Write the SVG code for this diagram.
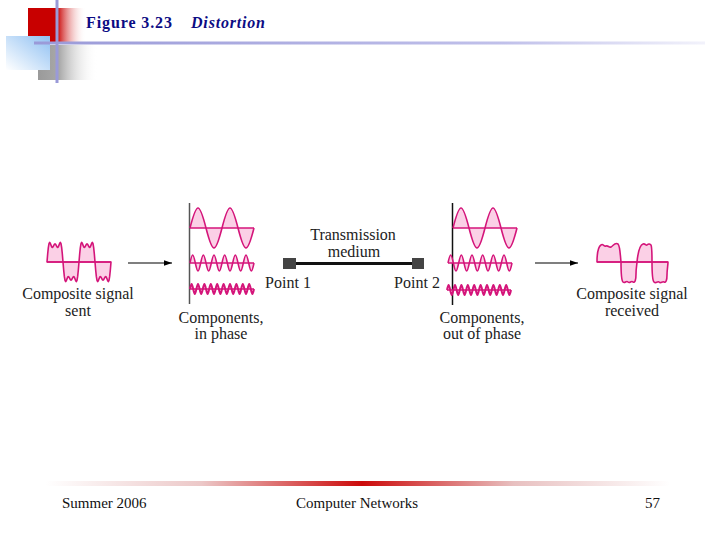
<svg xmlns="http://www.w3.org/2000/svg" width="720" height="540" viewBox="0 0 720 540">
<style>
.wave{fill:#fbd0e6;stroke:#d4157a;stroke-width:1.6;stroke-linejoin:round}
.wave2{fill:#fbd0e6;stroke:#d4157a;stroke-width:2;stroke-linejoin:round}
.axis{stroke:#d4157a;stroke-width:1.4;fill:none}
.lbl{font-family:"Liberation Serif","Times New Roman",serif;font-size:16px;fill:#222;text-anchor:middle}
.foot{font-family:"Liberation Serif","Times New Roman",serif;font-size:15px;fill:#111}
.title{font-family:"Liberation Serif","Times New Roman",serif;font-size:16px;font-weight:bold;fill:#0c0c84}
.conn{stroke:#000;stroke-width:1.2;fill:none}
</style>
<defs>
<linearGradient id="gRed" x1="0" y1="0" x2="1" y2="0"><stop offset="0" stop-color="#c80000"/><stop offset="0.5" stop-color="#c80000"/><stop offset="1" stop-color="#ffffff" stop-opacity="0"/></linearGradient>
<linearGradient id="gBlue" x1="1" y1="0" x2="0" y2="1"><stop offset="0" stop-color="#8fc0f2"/><stop offset="1" stop-color="#ffffff"/></linearGradient>
<linearGradient id="gGray" x1="0" y1="0" x2="1" y2="0"><stop offset="0" stop-color="#9a9a9a"/><stop offset="0.35" stop-color="#a8a8a8"/><stop offset="1" stop-color="#ffffff" stop-opacity="0"/></linearGradient>
<linearGradient id="gLine" gradientUnits="userSpaceOnUse" x1="34" y1="0" x2="705" y2="0"><stop offset="0" stop-color="#9a9ad8"/><stop offset="0.7" stop-color="#c0c0ea"/><stop offset="1" stop-color="#f2f2fb"/></linearGradient>
<linearGradient id="gFoot" gradientUnits="userSpaceOnUse" x1="45" y1="0" x2="670" y2="0"><stop offset="0" stop-color="#ffffff"/><stop offset="0.25" stop-color="#ecc8c8"/><stop offset="0.507" stop-color="#cc0a0a"/><stop offset="0.75" stop-color="#e8c0c0"/><stop offset="1" stop-color="#ffffff"/></linearGradient>
<marker id="arr" viewBox="0 0 10 10" refX="10" refY="5" markerWidth="8" markerHeight="8" markerUnits="userSpaceOnUse" orient="auto"><path d="M0,1.5 L10,5 L0,8.5 Z" fill="#000"/></marker>
<path id="big" d="M0,0 C6.79,-26.67 9.21,-26.67 16,0 S25.21,26.67 32,0 S41.21,-26.67 48,0 S57.21,26.67 64,0"/>
<path id="mid" d="M0,0 C2.26,-10.67 3.07,-10.67 5.33,0 S8.41,10.67 10.67,0 S13.74,-10.67 16,0 S19.07,10.67 21.33,0 S24.41,-10.67 26.67,0 S29.74,10.67 32,0 S35.07,-10.67 37.33,0 S40.41,10.67 42.67,0 S45.74,-10.67 48,0 S51.07,10.67 53.33,0 S56.41,-10.67 58.67,0 S61.74,10.67 64,0"/>
<path id="small" d="M0,0 C1.36,-6.67 1.84,-6.67 3.2,0 S5.04,6.67 6.4,0 S8.24,-6.67 9.6,0 S11.44,6.67 12.8,0 S14.64,-6.67 16,0 S17.84,6.67 19.2,0 S21.04,-6.67 22.4,0 S24.24,6.67 25.6,0 S27.44,-6.67 28.8,0 S30.64,6.67 32,0 S33.84,-6.67 35.2,0 S37.04,6.67 38.4,0 S40.24,-6.67 41.6,0 S43.44,6.67 44.8,0 S46.64,-6.67 48,0 S49.84,6.67 51.2,0 S53.04,-6.67 54.4,0 S56.24,6.67 57.6,0 S59.44,-6.67 60.8,0 S62.64,6.67 64,0"/>
<path id="lobe" d="M0,0 L0.67,-7.98 L1.33,-14.44 L2,-18.39 L2.67,-19.6 L3.33,-18.7 L4,-16.83 L4.67,-15.18 L5.33,-14.55 L6,-15.12 L6.67,-16.42 L7.33,-17.68 L8,-18.2 L8.67,-17.68 L9.33,-16.42 L10,-15.12 L10.67,-14.55 L11.33,-15.18 L12,-16.83 L12.67,-18.7 L13.33,-19.6 L14,-18.39 L14.67,-14.44 L15.33,-7.98 L16,0 Z"/>
</defs>
<rect width="720" height="540" fill="#fff"/>

<g id="header">
<rect x="28" y="8" width="58" height="34" fill="url(#gRed)"/>
<rect x="38" y="45" width="60" height="35" fill="url(#gGray)"/>
<rect x="6" y="36" width="44" height="34" fill="url(#gBlue)"/>
<line x1="57" y1="0" x2="57" y2="83" stroke="#9a9ad8" stroke-width="3"/>
<line x1="34" y1="43" x2="705" y2="43" stroke="url(#gLine)" stroke-width="3"/>
<text class="title" x="86" y="28" textLength="86">Figure 3.23</text>
<text class="title" x="191" y="28" font-style="italic" textLength="74">Distortion</text>
</g>

<g id="signal-sent">
<use href="#lobe" class="wave" transform="translate(47,262)"/>
<use href="#lobe" class="wave" transform="translate(63,262) scale(1,-1)"/>
<use href="#lobe" class="wave" transform="translate(79,262)"/>
<use href="#lobe" class="wave" transform="translate(95,262) scale(1,-1)"/>
<line class="axis" x1="47" y1="262" x2="111" y2="262"/>
<text class="lbl" x="78" y="299">Composite signal</text>
<text class="lbl" x="78" y="316">sent</text>
</g>

<g id="components-in-phase">
<line x1="189.5" y1="203" x2="189.5" y2="304" stroke="#555" stroke-width="1.5"/>
<use href="#big" class="wave" transform="translate(190,228)"/>
<line class="axis" x1="190" y1="228" x2="254" y2="228"/>
<use href="#mid" class="wave" transform="translate(190,263)"/>
<line class="axis" x1="190" y1="263" x2="254" y2="263"/>
<use href="#small" class="wave2" transform="translate(190,289)"/>
<line class="axis" x1="190" y1="289" x2="254" y2="289"/>
<text class="lbl" x="221" y="323">Components,</text>
<text class="lbl" x="221" y="339">in phase</text>
</g>

<g id="medium">
<rect x="283" y="258" width="13" height="11" fill="#444"/>
<line x1="296" y1="263.5" x2="412" y2="263.5" stroke="#111" stroke-width="3"/>
<rect x="412" y="258" width="12" height="11" fill="#444"/>
<text class="lbl" x="353" y="240">Transmission</text>
<text class="lbl" x="354" y="257">medium</text>
<text class="lbl" x="288" y="288">Point 1</text>
<text class="lbl" x="417" y="288">Point 2</text>
</g>

<g id="components-out-of-phase">
<line x1="452.5" y1="203" x2="452.5" y2="305" stroke="#111" stroke-width="1.5"/>
<use href="#big" class="wave" transform="translate(453,228)"/>
<line class="axis" x1="453" y1="228" x2="517" y2="228"/>
<use href="#mid" class="wave" transform="translate(448,263)"/>
<line class="axis" x1="448" y1="263" x2="512" y2="263"/>
<use href="#small" class="wave2" transform="translate(447,290)"/>
<line class="axis" x1="447" y1="290" x2="511" y2="290"/>
<text class="lbl" x="482" y="323">Components,</text>
<text class="lbl" x="482" y="339">out of phase</text>
</g>

<g id="signal-received">
<path class="wave" d="M597,262 C597,254 598,247 601,245 C603,243 604,247 606,246 C608,245 609,248 611,247 C613,246 615,242 618,244 C620,246 620,252 621,262 Z"/>
<path class="wave" d="M621,262 C621,272 621,280 623,282 C625,284 626,280 628,282 C630,284 631,280 633,282 C635,283 636,280 636,274 C636,268 637,264 637,262 Z"/>
<path class="wave" d="M637,262 C638,252 640,245 643,244 C645,243 646,246 647,245 C649,243 650,244 651,245 C652,247 652,252 652,262 Z"/>
<path class="wave" d="M652,262 C652,272 652,280 654,282 C656,284 657,281 659,282 C661,284 662,281 664,282 C666,283 667,280 667,275 C667,270 668,265 668,262 Z"/>
<line class="axis" x1="597" y1="262" x2="668" y2="262"/>
<text class="lbl" x="632" y="299">Composite signal</text>
<text class="lbl" x="632" y="316">received</text>
</g>

<g id="connectors">
<line class="conn" x1="128" y1="263" x2="172" y2="263" marker-end="url(#arr)"/>
<line class="conn" x1="535" y1="263" x2="578" y2="263" marker-end="url(#arr)"/>
</g>

<g id="footer">
<rect x="45" y="481" width="625" height="5" fill="url(#gFoot)"/>
<text class="foot" x="62" y="508">Summer 2006</text>
<text class="foot" x="296" y="508">Computer Networks</text>
<text class="foot" x="645" y="508">57</text>
</g>
</svg>
